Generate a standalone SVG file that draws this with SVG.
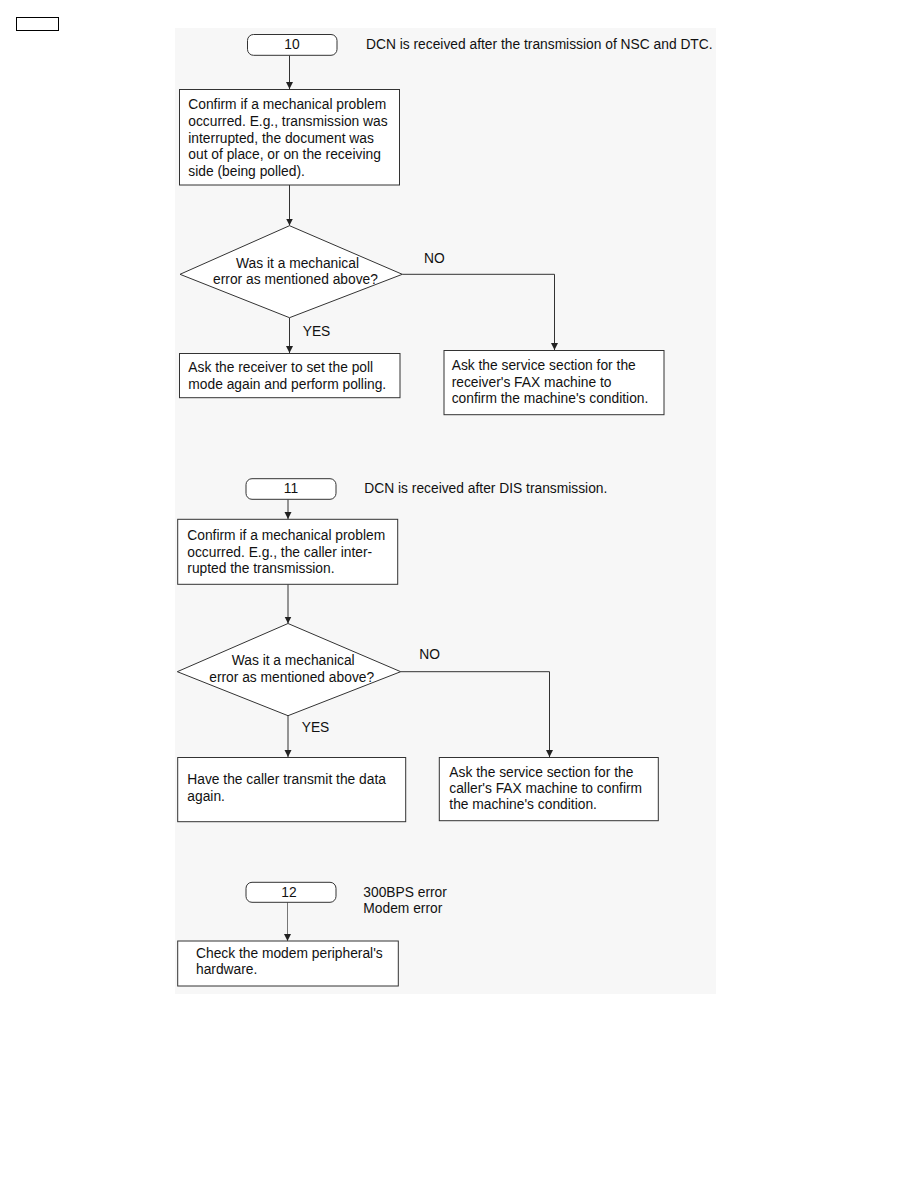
<svg xmlns="http://www.w3.org/2000/svg" width="918" height="1188" viewBox="0 0 918 1188">
<style>
text{font-family:"Liberation Sans",Arial,sans-serif;font-size:13.8px;fill:#111}
.mid{text-anchor:middle}
.box{fill:#fff;stroke:#333;stroke-width:1}
.term{fill:#fff;stroke:#333;stroke-width:1}
.ln{fill:none;stroke:#333;stroke-width:1}
</style>
<defs>
<marker id="ah" markerUnits="userSpaceOnUse" markerWidth="8" markerHeight="8" refX="7" refY="4" orient="auto">
<path d="M0,0.5 L7,4 L0,7.5 z" fill="#222"/>
</marker>
</defs>
<rect x="0" y="0" width="918" height="1188" fill="#fff"/>
<rect x="175" y="28" width="541" height="966" fill="#f7f7f7"/>
<rect x="16.5" y="17.5" width="42" height="13" fill="#fff" stroke="#000" stroke-width="1"/>

<g id="connectors">
<path class="ln" d="M289.5,55.5 V89" marker-end="url(#ah)"/>
<path class="ln" d="M289.5,185 V225.5" marker-end="url(#ah)"/>
<path class="ln" d="M289.5,317.7 V353" marker-end="url(#ah)"/>
<path class="ln" d="M402.3,274.3 H554.5 V350" marker-end="url(#ah)"/>
<path class="ln" d="M288,499.3 V519" marker-end="url(#ah)"/>
<path class="ln" d="M288,584.3 V623.5" marker-end="url(#ah)"/>
<path class="ln" d="M288,715.7 V757" marker-end="url(#ah)"/>
<path class="ln" d="M400.7,671.7 H549.5 V757" marker-end="url(#ah)"/>
<path class="ln" d="M287.5,902.3 V941" stroke="#777" marker-end="url(#ah)" style="stroke:#777"/>
</g>

<g id="t10">
<rect class="term" x="247.5" y="34.5" width="89.5" height="20.8" rx="6"/>
<text class="mid" x="292" y="48.5">10</text>
</g>
<g id="label10">
<text x="366" y="48.5">DCN is received after the transmission of NSC and DTC.</text>
</g>
<g id="box10">
<rect class="box" x="179.5" y="89.5" width="220" height="95.5"/>
<text x="188.3" y="109">Confirm if a mechanical problem</text>
<text x="188.3" y="125.8">occurred. E.g., transmission was</text>
<text x="188.3" y="142.6">interrupted, the document was</text>
<text x="188.3" y="159.3">out of place, or on the receiving</text>
<text x="188.3" y="176">side (being polled).</text>
</g>
<g id="dec10">
<polygon class="box" points="289.5,225.7 402.3,274.3 289.5,317.7 180,274.3"/>
<text class="mid" x="297.5" y="268">Was it a mechanical</text>
<text class="mid" x="295.5" y="284.3">error as mentioned above?</text>
</g>
<text x="424" y="263">NO</text>
<text x="302.7" y="335.7">YES</text>
<g id="yes10">
<rect class="box" x="179.5" y="353.5" width="220.5" height="44.2"/>
<text x="188.3" y="372.3">Ask the receiver to set the poll</text>
<text x="188.3" y="389">mode again and perform polling.</text>
</g>
<g id="no10">
<rect class="box" x="444" y="350.5" width="220" height="64.2"/>
<text x="451.7" y="370">Ask the service section for the</text>
<text x="451.7" y="386.7">receiver's FAX machine to</text>
<text x="451.7" y="403.3">confirm the machine's condition.</text>
</g>

<g id="t11">
<rect class="term" x="246" y="478.7" width="90" height="20.6" rx="6"/>
<text class="mid" x="291" y="492.7">11</text>
</g>
<g id="label11">
<text x="364.3" y="493">DCN is received after DIS transmission.</text>
</g>
<g id="box11">
<rect class="box" x="177.7" y="519.3" width="220" height="65"/>
<text x="187.3" y="540">Confirm if a mechanical problem</text>
<text x="187.3" y="556.7">occurred. E.g., the caller inter-</text>
<text x="187.3" y="573">rupted the transmission.</text>
</g>
<g id="dec11">
<polygon class="box" points="288,623.5 400.7,671.7 288,715.7 177.3,671.7"/>
<text class="mid" x="293.2" y="665">Was it a mechanical</text>
<text class="mid" x="291.7" y="681.7">error as mentioned above?</text>
</g>
<text x="419.3" y="659.3">NO</text>
<text x="301.7" y="732.3">YES</text>
<g id="yes11">
<rect class="box" x="177.7" y="757.5" width="228" height="64.2"/>
<text x="187.3" y="784">Have the caller transmit the data</text>
<text x="187.3" y="801">again.</text>
</g>
<g id="no11">
<rect class="box" x="439.3" y="757.5" width="219" height="63.2"/>
<text x="449.3" y="776.7">Ask the service section for the</text>
<text x="449.3" y="793">caller's FAX machine to confirm</text>
<text x="449.3" y="809.3">the machine's condition.</text>
</g>

<g id="t12">
<rect class="term" x="246" y="882.3" width="90" height="20" rx="6"/>
<text class="mid" x="289" y="897">12</text>
</g>
<g id="label12">
<text x="363.3" y="896.7">300BPS error</text>
<text x="363.3" y="912.7">Modem error</text>
</g>
<g id="box12">
<rect class="box" x="177.7" y="941" width="220.6" height="45"/>
<text x="196" y="958.3">Check the modem peripheral's</text>
<text x="196" y="974.3">hardware.</text>
</g>
</svg>
